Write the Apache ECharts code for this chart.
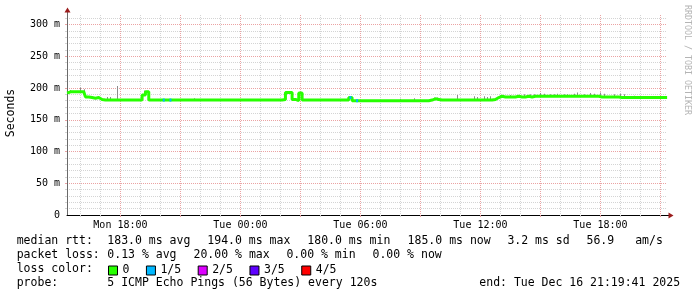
<!DOCTYPE html>
<html>
<head>
<meta charset="utf-8">
<script src="https://cdn.jsdelivr.net/npm/echarts@6/dist/echarts.min.js"></script>
<style>
  html, body { margin: 0; padding: 0; background: #fff; }
  #chart { width: 697px; height: 297px; }
</style>
</head>
<body>
<div id="chart"></div>
<script>
// time axis in hours counted from Mon 00:00
const START_H = 15 + 19 / 60 + 41 / 3600;   // Mon 15:19:41
const END_H = START_H + 30;                 // Tue 21:19:41
const SAMPLE_H0 = 15 + 20 / 60;             // first sample Mon 15:20
const SAMPLE_STEP = 1 / 6;                  // 10 min

// median rtt (ms), one value per 10 min
const rttMedian = [
  192, 194, 194, 194, 194, 194,
  186, 185, 184, 185, 182, 181,
  181, 181, 181, 181, 181, 181,
  181, 181, 181, 181, 181, 189,
  194, 181, 181, 181, 181, 181,
  181, 181, 181, 181, 181, 181,
  181, 181, 181, 181, 181, 181,
  181, 181, 181, 181, 181, 181,
  181, 181, 181, 181, 181, 181,
  181, 181, 181, 181, 181, 181,
  181, 181, 181, 181, 181, 182,
  193, 193, 182, 180, 192, 181,
  181, 181, 181, 181, 181, 181,
  181, 181, 181, 181, 181, 181,
  181, 185, 180, 180, 180, 180,
  180, 180, 180, 180, 180, 180,
  180, 180, 180, 180, 180, 180,
  180, 180, 180, 180, 180, 180,
  180, 181, 183, 182, 181, 181,
  181, 181, 181, 181, 181, 181,
  181, 181, 181, 181, 181, 181,
  181, 181, 182, 185, 187, 186,
  186, 186, 186, 187, 186, 186,
  187, 186, 187, 187, 187, 187,
  187, 187, 187, 187, 187, 187,
  187, 187, 187, 187, 187, 187,
  187, 187, 187, 187, 186, 186,
  186, 186, 186, 186, 185, 185,
  185, 185, 185, 185, 185, 185,
  185, 185, 185, 185, 185, 185,
  185
];

// smoke: sample index and highest ping (ms)
const smokeIdx = [1, 4, 5, 12, 13, 15, 23, 38, 66, 70, 85, 100, 104, 110, 111, 117,
  122, 123, 125, 126, 127, 130, 133, 136, 137, 139, 140, 142, 143, 145, 146, 147, 149, 150, 152, 153,
  155, 157, 158, 160, 161, 164, 166, 167, 170];
const smokeTop = [197, 201, 198, 186, 186, 203, 196, 184, 195, 194, 187, 183, 184, 185, 185, 189,
  187, 186, 187, 186, 187, 189, 189, 189, 190, 190, 190, 192, 191, 190, 190, 191, 190, 190, 191, 193,
  190, 192, 191, 193, 191, 190, 191, 190, 188];

// samples with 1 of 5 pings lost
const lossIdx = [29, 31, 85, 87];

const xTickHours = [18, 24, 30, 36, 42];
const xTickLabels = ['Mon 18:00', 'Tue 00:00', 'Tue 06:00', 'Tue 12:00', 'Tue 18:00'];
const yTickValues = [0, 50, 100, 150, 200, 250, 300];

const lossLevels = ['0', '1/5', '2/5', '3/5', '4/5'];
const lossColors = ['#26ff00', '#00b8ff', '#dd00ff', '#5e00ff', '#ff0000'];

const rttStats = ['183.0 ms avg', '194.0 ms max', '180.0 ms min', '185.0 ms now', '3.2 ms sd', '56.9', 'am/s'];
const lossStats = ['0.13 % avg', '20.00 % max', '0.00 % min', '0.00 % now'];
const probeText = '5 ICMP Echo Pings (56 Bytes) every 120s';
const endText = 'end: Tue Dec 16 21:19:41 2025';

const MONO = '"DejaVu Sans Mono", monospace';
const ARROW = '#9b1c1c';
const MINOR_GRID = '#d4d4d4';
const MAJOR_GRID = '#eba3a3';
const toT = i => SAMPLE_H0 + i * SAMPLE_STEP;

const minorHours = [];
const majorHours = [];
for (let h = 16; h <= 45; h++) (h % 3 === 0 ? majorHours : minorHours).push(h);
const minorMs = [];
const majorMs = [];
for (let v = 10; v <= 310; v += 10) (v % 50 === 0 ? majorMs : minorMs).push(v);

function txt(s, x, y, extra) {
  return {
    type: 'text', x: x, y: y, silent: true,
    style: Object.assign({ text: s, fontFamily: MONO, fontSize: 11.5, fill: '#000',
      verticalAlign: 'middle' }, extra || {})
  };
}

const rttX = [107.3, 207.3, 307.3, 407.6, 507.4, 586.5, 635.2];
const lossX = [107.3, 193.5, 286.4, 372.5];
const graphics = [
  txt('Seconds', 11, 113, { align: 'center' }),
  txt('RRDTOOL / TOBI OETIKER', 687, 60, { align: 'center', fontSize: 8.3, fill: '#b4b4b4' }),
  txt('median rtt:', 16.7, 241.5),
  txt('packet loss:', 16.7, 255.5),
  txt('loss color:', 16.7, 269),
  txt('probe:', 16.7, 283),
  txt(probeText, 107.3, 283),
  txt(endText, 479.3, 283)
];
graphics[0].rotation = Math.PI / 2;
graphics[1].rotation = -Math.PI / 2;
rttStats.forEach((s, k) => graphics.push(txt(s, rttX[k], 241.5)));
lossStats.forEach((s, k) => graphics.push(txt(s, lossX[k], 255.5)));

function gridAxis(values, color, dim) {
  return {
    type: 'value', min: dim === 'x' ? START_H : 0, max: dim === 'x' ? END_H : 315,
    position: dim === 'x' ? 'bottom' : 'left',
    axisLine: { show: false },
    axisLabel: { show: false },
    axisTick: { show: true, length: 2, customValues: values, lineStyle: { color: color } },
    splitLine: { show: true, lineStyle: { color: color, width: 1, type: [1, 1] } }
  };
}

const chart = echarts.init(document.getElementById('chart'), null, { renderer: 'canvas' });
chart.setOption({
  animation: false,
  backgroundColor: '#fff',
  grid: { left: 67, right: 30, top: 15, bottom: 82 },
  xAxis: [
    {
      type: 'value', min: START_H, max: END_H, position: 'bottom',
      axisLine: { show: true, lineStyle: { color: '#000', width: 1 } },
      axisTick: { show: false },
      axisLabel: {
        customValues: xTickHours, margin: 5, color: '#000', fontFamily: MONO, fontSize: 10,
        formatter: v => xTickLabels[xTickHours.indexOf(Math.round(v))] || ''
      },
      splitLine: { show: false }
    },
    gridAxis(minorHours, MINOR_GRID, 'x'),
    gridAxis(majorHours, MAJOR_GRID, 'x')
  ],
  yAxis: [
    {
      type: 'value', min: 0, max: 315, position: 'left',
      axisLine: { show: true, lineStyle: { color: '#6a6a6a', width: 1 } },
      axisTick: { show: false },
      axisLabel: {
        customValues: yTickValues, margin: 7, color: '#000', fontFamily: MONO, fontSize: 10,
        formatter: v => (v === 0 ? '0' : v + ' m')
      },
      splitLine: { show: false }
    },
    gridAxis(minorMs, MINOR_GRID, 'y'),
    gridAxis(majorMs, MAJOR_GRID, 'y')
  ],
  legend: {
    left: 108, top: 264.5, padding: 0, orient: 'horizontal',
    icon: 'rect', itemWidth: 9, itemHeight: 9, itemGap: 16.5,
    selectedMode: false,
    data: lossLevels,
    itemStyle: { borderColor: '#000', borderWidth: 1 },
    textStyle: { fontFamily: MONO, fontSize: 11.5, color: '#000' }
  },
  graphic: graphics,
  series: [
    {
      name: 'smoke', type: 'custom', coordinateSystem: 'cartesian2d', z: 2,
      encode: { x: 0, y: [1, 2] },
      data: smokeIdx.map((idx, k) => [toT(idx), rttMedian[idx], smokeTop[k]]),
      renderItem: (params, api) => {
        const lo = api.coord([api.value(0), api.value(1)]);
        const hi = api.coord([api.value(0), api.value(2)]);
        return { type: 'rect', shape: { x: Math.round(lo[0]), y: hi[1], width: 1, height: lo[1] - hi[1] },
          style: { fill: '#8c8c8c' } };
      }
    },
    {
      name: lossLevels[0], type: 'line', step: 'middle', z: 3,
      color: lossColors[0], showSymbol: false,
      lineStyle: { color: lossColors[0], width: 3 },
      data: rttMedian.map((v, i) => [toT(i), v])
    },
    {
      name: lossLevels[1], type: 'custom', coordinateSystem: 'cartesian2d', z: 4,
      itemStyle: { color: lossColors[1] },
      data: lossIdx.map(idx => [toT(idx), rttMedian[idx]]),
      renderItem: (params, api) => {
        const p = api.coord([api.value(0), api.value(1)]);
        return { type: 'rect', shape: { x: p[0] - 1, y: p[1] - 1.5, width: 2, height: 3 },
          style: { fill: lossColors[1] } };
      }
    },
    { name: lossLevels[2], type: 'line', data: [], color: lossColors[2] },
    { name: lossLevels[3], type: 'line', data: [], color: lossColors[3] },
    { name: lossLevels[4], type: 'line', data: [], color: lossColors[4] }
  ]
});

// RRDtool style arrows at the ends of both axes, placed from the axis scales
const pOrigin = chart.convertToPixel({ xAxisIndex: 0, yAxisIndex: 0 }, [START_H, 0]);
const pTop = chart.convertToPixel({ xAxisIndex: 0, yAxisIndex: 0 }, [START_H, 315]);
const pRight = chart.convertToPixel({ xAxisIndex: 0, yAxisIndex: 0 }, [END_H, 0]);
const ox = Math.round(pOrigin[0]) + 0.5;
const oy = Math.round(pOrigin[1]) + 0.5;
graphics.push(
  { type: 'line', silent: true, shape: { x1: ox, y1: pTop[1], x2: ox, y2: pTop[1] - 3 },
    style: { stroke: '#6a6a6a', lineWidth: 1 } },
  { type: 'polygon', silent: true, shape: { points: [[ox - 3, pTop[1] - 2.5], [ox + 3, pTop[1] - 2.5], [ox, pTop[1] - 7.5]] },
    style: { fill: ARROW } },
  { type: 'line', silent: true, shape: { x1: pRight[0], y1: oy, x2: pRight[0] + 2, y2: oy },
    style: { stroke: '#000', lineWidth: 1 } },
  { type: 'polygon', silent: true, shape: { points: [[pRight[0] + 1.5, oy - 3], [pRight[0] + 1.5, oy + 3], [pRight[0] + 6.5, oy]] },
    style: { fill: ARROW } }
);
chart.setOption({ graphic: graphics });
</script>
</body>
</html>
